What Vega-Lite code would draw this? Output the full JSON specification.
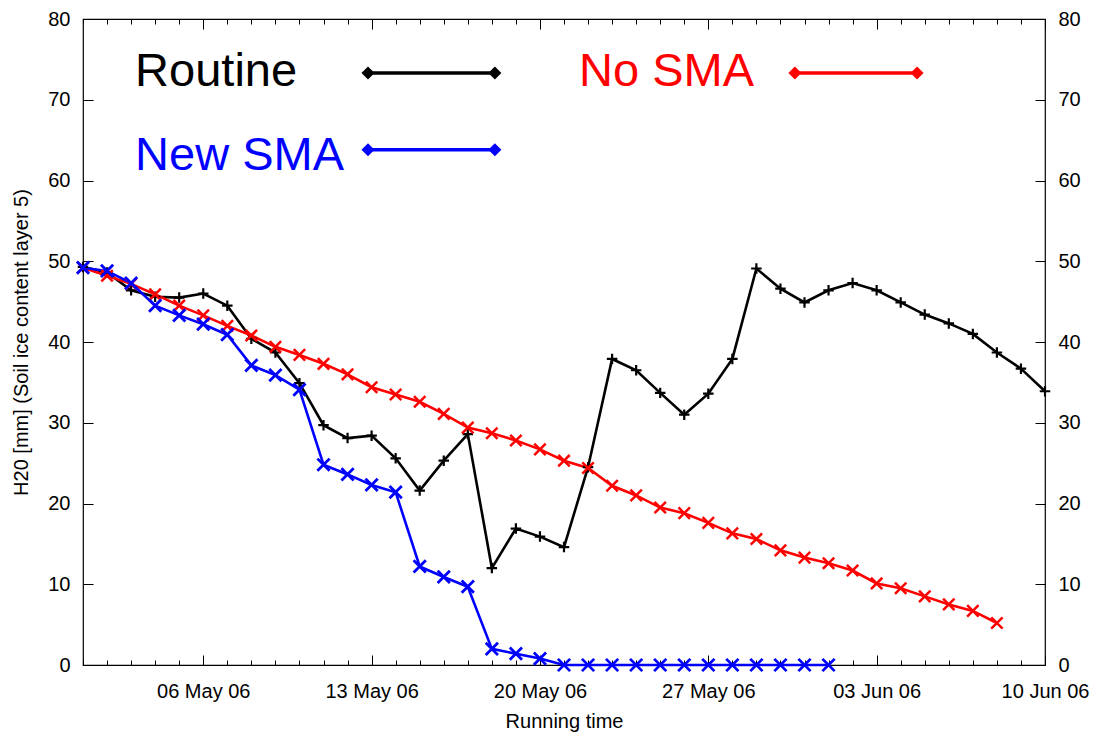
{
  "$schema": "https://vega.github.io/schema/vega-lite/v6.json",
  "autosize": "none",
  "width": 962,
  "height": 646,
  "padding": {"left": 83, "top": 19, "right": 52, "bottom": 68},
  "background": "white",
  "config": {
    "view": {"stroke": "black", "strokeWidth": 1.2},
    "font": "Liberation Sans",
    "axis": {
      "labelFont": "Liberation Sans",
      "labelFontSize": 20,
      "labelColor": "black",
      "titleFont": "Liberation Sans",
      "titleFontSize": 20,
      "titleFontWeight": "normal",
      "titleColor": "black",
      "tickColor": "black",
      "tickWidth": 1,
      "grid": false,
      "domain": false
    }
  },
  "datasets": {
    "series": [
      {"date": "2006-05-01T00:00", "series": "Routine", "value": 49.3},
      {"date": "2006-05-02T00:00", "series": "Routine", "value": 48.6},
      {"date": "2006-05-03T00:00", "series": "Routine", "value": 46.4},
      {"date": "2006-05-04T00:00", "series": "Routine", "value": 45.6},
      {"date": "2006-05-05T00:00", "series": "Routine", "value": 45.5},
      {"date": "2006-05-06T00:00", "series": "Routine", "value": 46.0},
      {"date": "2006-05-07T00:00", "series": "Routine", "value": 44.5},
      {"date": "2006-05-08T00:00", "series": "Routine", "value": 40.4},
      {"date": "2006-05-09T00:00", "series": "Routine", "value": 38.7},
      {"date": "2006-05-10T00:00", "series": "Routine", "value": 34.9},
      {"date": "2006-05-11T00:00", "series": "Routine", "value": 29.7},
      {"date": "2006-05-12T00:00", "series": "Routine", "value": 28.1},
      {"date": "2006-05-13T00:00", "series": "Routine", "value": 28.4},
      {"date": "2006-05-14T00:00", "series": "Routine", "value": 25.6},
      {"date": "2006-05-15T00:00", "series": "Routine", "value": 21.6},
      {"date": "2006-05-16T00:00", "series": "Routine", "value": 25.3},
      {"date": "2006-05-17T00:00", "series": "Routine", "value": 28.6},
      {"date": "2006-05-18T00:00", "series": "Routine", "value": 12.0},
      {"date": "2006-05-19T00:00", "series": "Routine", "value": 16.9},
      {"date": "2006-05-20T00:00", "series": "Routine", "value": 15.9},
      {"date": "2006-05-21T00:00", "series": "Routine", "value": 14.6},
      {"date": "2006-05-22T00:00", "series": "Routine", "value": 24.5},
      {"date": "2006-05-23T00:00", "series": "Routine", "value": 37.9},
      {"date": "2006-05-24T00:00", "series": "Routine", "value": 36.5},
      {"date": "2006-05-25T00:00", "series": "Routine", "value": 33.7},
      {"date": "2006-05-26T00:00", "series": "Routine", "value": 31.0},
      {"date": "2006-05-27T00:00", "series": "Routine", "value": 33.6},
      {"date": "2006-05-28T00:00", "series": "Routine", "value": 37.9},
      {"date": "2006-05-29T00:00", "series": "Routine", "value": 49.1},
      {"date": "2006-05-30T00:00", "series": "Routine", "value": 46.6},
      {"date": "2006-05-31T00:00", "series": "Routine", "value": 44.9},
      {"date": "2006-06-01T00:00", "series": "Routine", "value": 46.4},
      {"date": "2006-06-02T00:00", "series": "Routine", "value": 47.3},
      {"date": "2006-06-03T00:00", "series": "Routine", "value": 46.4},
      {"date": "2006-06-04T00:00", "series": "Routine", "value": 44.9},
      {"date": "2006-06-05T00:00", "series": "Routine", "value": 43.4},
      {"date": "2006-06-06T00:00", "series": "Routine", "value": 42.3},
      {"date": "2006-06-07T00:00", "series": "Routine", "value": 41.0},
      {"date": "2006-06-08T00:00", "series": "Routine", "value": 38.7},
      {"date": "2006-06-09T00:00", "series": "Routine", "value": 36.7},
      {"date": "2006-06-10T00:00", "series": "Routine", "value": 33.9},
      {"date": "2006-05-01T00:00", "series": "No SMA", "value": 49.2},
      {"date": "2006-05-02T00:00", "series": "No SMA", "value": 48.2},
      {"date": "2006-05-03T00:00", "series": "No SMA", "value": 47.2},
      {"date": "2006-05-04T00:00", "series": "No SMA", "value": 45.9},
      {"date": "2006-05-05T00:00", "series": "No SMA", "value": 44.5},
      {"date": "2006-05-06T00:00", "series": "No SMA", "value": 43.3},
      {"date": "2006-05-07T00:00", "series": "No SMA", "value": 42.0},
      {"date": "2006-05-08T00:00", "series": "No SMA", "value": 40.8},
      {"date": "2006-05-09T00:00", "series": "No SMA", "value": 39.4},
      {"date": "2006-05-10T00:00", "series": "No SMA", "value": 38.4},
      {"date": "2006-05-11T00:00", "series": "No SMA", "value": 37.3},
      {"date": "2006-05-12T00:00", "series": "No SMA", "value": 36.0},
      {"date": "2006-05-13T00:00", "series": "No SMA", "value": 34.4},
      {"date": "2006-05-14T00:00", "series": "No SMA", "value": 33.5},
      {"date": "2006-05-15T00:00", "series": "No SMA", "value": 32.6},
      {"date": "2006-05-16T00:00", "series": "No SMA", "value": 31.1},
      {"date": "2006-05-17T00:00", "series": "No SMA", "value": 29.4},
      {"date": "2006-05-18T00:00", "series": "No SMA", "value": 28.7},
      {"date": "2006-05-19T00:00", "series": "No SMA", "value": 27.8},
      {"date": "2006-05-20T00:00", "series": "No SMA", "value": 26.7},
      {"date": "2006-05-21T00:00", "series": "No SMA", "value": 25.3},
      {"date": "2006-05-22T00:00", "series": "No SMA", "value": 24.4},
      {"date": "2006-05-23T00:00", "series": "No SMA", "value": 22.2},
      {"date": "2006-05-24T00:00", "series": "No SMA", "value": 21.0},
      {"date": "2006-05-25T00:00", "series": "No SMA", "value": 19.5},
      {"date": "2006-05-26T00:00", "series": "No SMA", "value": 18.8},
      {"date": "2006-05-27T00:00", "series": "No SMA", "value": 17.6},
      {"date": "2006-05-28T00:00", "series": "No SMA", "value": 16.3},
      {"date": "2006-05-29T00:00", "series": "No SMA", "value": 15.6},
      {"date": "2006-05-30T00:00", "series": "No SMA", "value": 14.2},
      {"date": "2006-05-31T00:00", "series": "No SMA", "value": 13.3},
      {"date": "2006-06-01T00:00", "series": "No SMA", "value": 12.6},
      {"date": "2006-06-02T00:00", "series": "No SMA", "value": 11.7},
      {"date": "2006-06-03T00:00", "series": "No SMA", "value": 10.1},
      {"date": "2006-06-04T00:00", "series": "No SMA", "value": 9.5},
      {"date": "2006-06-05T00:00", "series": "No SMA", "value": 8.5},
      {"date": "2006-06-06T00:00", "series": "No SMA", "value": 7.5},
      {"date": "2006-06-07T00:00", "series": "No SMA", "value": 6.7},
      {"date": "2006-06-08T00:00", "series": "No SMA", "value": 5.2},
      {"date": "2006-05-01T00:00", "series": "New SMA", "value": 49.2},
      {"date": "2006-05-02T00:00", "series": "New SMA", "value": 48.8},
      {"date": "2006-05-03T00:00", "series": "New SMA", "value": 47.3},
      {"date": "2006-05-04T00:00", "series": "New SMA", "value": 44.5},
      {"date": "2006-05-05T00:00", "series": "New SMA", "value": 43.3},
      {"date": "2006-05-06T00:00", "series": "New SMA", "value": 42.2},
      {"date": "2006-05-07T00:00", "series": "New SMA", "value": 40.9},
      {"date": "2006-05-08T00:00", "series": "New SMA", "value": 37.1},
      {"date": "2006-05-09T00:00", "series": "New SMA", "value": 35.9},
      {"date": "2006-05-10T00:00", "series": "New SMA", "value": 34.1},
      {"date": "2006-05-11T00:00", "series": "New SMA", "value": 24.8},
      {"date": "2006-05-12T00:00", "series": "New SMA", "value": 23.6},
      {"date": "2006-05-13T00:00", "series": "New SMA", "value": 22.3},
      {"date": "2006-05-14T00:00", "series": "New SMA", "value": 21.4},
      {"date": "2006-05-15T00:00", "series": "New SMA", "value": 12.2},
      {"date": "2006-05-16T00:00", "series": "New SMA", "value": 10.9},
      {"date": "2006-05-17T00:00", "series": "New SMA", "value": 9.7},
      {"date": "2006-05-18T00:00", "series": "New SMA", "value": 2.0},
      {"date": "2006-05-19T00:00", "series": "New SMA", "value": 1.4},
      {"date": "2006-05-20T00:00", "series": "New SMA", "value": 0.8},
      {"date": "2006-05-21T00:00", "series": "New SMA", "value": 0},
      {"date": "2006-05-22T00:00", "series": "New SMA", "value": 0},
      {"date": "2006-05-23T00:00", "series": "New SMA", "value": 0},
      {"date": "2006-05-24T00:00", "series": "New SMA", "value": 0},
      {"date": "2006-05-25T00:00", "series": "New SMA", "value": 0},
      {"date": "2006-05-26T00:00", "series": "New SMA", "value": 0},
      {"date": "2006-05-27T00:00", "series": "New SMA", "value": 0},
      {"date": "2006-05-28T00:00", "series": "New SMA", "value": 0},
      {"date": "2006-05-29T00:00", "series": "New SMA", "value": 0},
      {"date": "2006-05-30T00:00", "series": "New SMA", "value": 0},
      {"date": "2006-05-31T00:00", "series": "New SMA", "value": 0},
      {"date": "2006-06-01T00:00", "series": "New SMA", "value": 0}
    ]
  },
  "layer": [
    {
      "data": {"name": "series"},
      "mark": {"type": "line", "strokeWidth": 2.6},
      "encoding": {
        "x": {
          "field": "date", "type": "temporal",
          "scale": {"domain": [{"year": 2006, "month": 5, "date": 1}, {"year": 2006, "month": 6, "date": 10}]},
          "axis": {
            "orient": "bottom",
            "values": [
              {"year": 2006, "month": 5, "date": 6},
              {"year": 2006, "month": 5, "date": 13},
              {"year": 2006, "month": 5, "date": 20},
              {"year": 2006, "month": 5, "date": 27},
              {"year": 2006, "month": 6, "date": 3},
              {"year": 2006, "month": 6, "date": 10}
            ],
            "format": "%d %b %y",
            "tickSize": -10,
            "labelPadding": 26,
            "labelFlush": false,
            "labelOverlap": false,
            "title": "Running time",
            "titlePadding": 10
          }
        },
        "y": {
          "field": "value", "type": "quantitative",
          "scale": {"domain": [0, 80], "nice": false},
          "axis": {
            "orient": "left",
            "values": [0, 10, 20, 30, 40, 50, 60, 70, 80],
            "tickSize": -10,
            "labelPadding": 23,
            "title": "H20 [mm] (Soil ice content layer 5)",
            "titlePadding": 16
          }
        },
        "color": {
          "field": "series", "type": "nominal",
          "scale": {"domain": ["Routine", "No SMA", "New SMA"], "range": ["#000000", "#ff0000", "#0000ff"]},
          "legend": null
        }
      }
    },
    {
      "data": {"name": "series"},
      "mark": {"type": "point", "filled": false, "opacity": 1},
      "encoding": {
        "x": {
          "field": "date", "type": "temporal",
          "axis": {
            "orient": "bottom",
            "tickCount": {"interval": "day", "step": 1},
            "tickSize": -5,
            "labels": false,
            "title": null
          }
        },
        "y": {
          "field": "value", "type": "quantitative",
          "axis": {
            "orient": "right",
            "values": [0, 10, 20, 30, 40, 50, 60, 70, 80],
            "tickSize": -10,
            "labelPadding": 23,
            "title": null
          }
        },
        "color": {"field": "series", "type": "nominal", "legend": null},
        "shape": {
          "field": "series", "type": "nominal",
          "scale": {"domain": ["Routine", "No SMA", "New SMA"], "range": ["M-1,0H1M0,-1V1", "M-1,-1L1,1M-1,1L1,-1", "M-1,-1L1,1M-1,1L1,-1"]},
          "legend": null
        },
        "size": {
          "field": "series", "type": "nominal",
          "scale": {"domain": ["Routine", "No SMA", "New SMA"], "range": [110, 150, 130]},
          "legend": null
        },
        "strokeWidth": {
          "field": "series", "type": "nominal",
          "scale": {"domain": ["Routine", "No SMA", "New SMA"], "range": [2.2, 2.8, 4]},
          "legend": null
        }
      }
    },
    {
      "data": {"values": [{}]},
      "mark": {"type": "text", "text": "Routine", "align": "left", "baseline": "alphabetic", "fontSize": 47, "font": "Liberation Sans", "color": "#000000"},
      "encoding": {
        "x": {
          "datum": {"year": 2006, "month": 5, "date": 3, "hours": 4}, "type": "temporal",
          "axis": {
            "orient": "top",
            "values": [
              {"year": 2006, "month": 5, "date": 6},
              {"year": 2006, "month": 5, "date": 13},
              {"year": 2006, "month": 5, "date": 20},
              {"year": 2006, "month": 5, "date": 27},
              {"year": 2006, "month": 6, "date": 3},
              {"year": 2006, "month": 6, "date": 10}
            ],
            "tickSize": -10,
            "labels": false,
            "title": null
          }
        },
        "y": {"datum": 71.7, "type": "quantitative", "axis": null}
      }
    },
    {
      "data": {"values": [{}]},
      "mark": {"type": "text", "text": "New SMA", "align": "left", "baseline": "alphabetic", "fontSize": 47, "font": "Liberation Sans", "color": "#0000ff"},
      "encoding": {
        "x": {
          "datum": {"year": 2006, "month": 5, "date": 3, "hours": 4}, "type": "temporal",
          "axis": {
            "orient": "top",
            "tickCount": {"interval": "day", "step": 1},
            "tickSize": -5,
            "labels": false,
            "title": null
          }
        },
        "y": {"datum": 61.3, "type": "quantitative", "axis": null}
      }
    },
    {
      "data": {"values": [{}]},
      "mark": {"type": "text", "text": "No SMA", "align": "left", "baseline": "alphabetic", "fontSize": 47, "font": "Liberation Sans", "color": "#ff0000"},
      "encoding": {
        "x": {"datum": {"year": 2006, "month": 5, "date": 21, "hours": 15}, "type": "temporal", "axis": null},
        "y": {"datum": 71.7, "type": "quantitative", "axis": null}
      }
    },
    {
      "data": {"values": [{}]},
      "mark": {"type": "rule", "strokeWidth": 3.5, "color": "#000000"},
      "encoding": {
        "x": {"datum": {"year": 2006, "month": 5, "date": 12, "hours": 20, "minutes": 24}, "type": "temporal", "axis": null},
        "x2": {"datum": {"year": 2006, "month": 5, "date": 18, "hours": 3}},
        "y": {"datum": 73.3, "type": "quantitative", "axis": null}
      }
    },
    {
      "data": {"values": [{}]},
      "mark": {"type": "point", "shape": "diamond", "filled": true, "size": 170, "opacity": 1, "color": "#000000"},
      "encoding": {
        "x": {"datum": {"year": 2006, "month": 5, "date": 12, "hours": 20, "minutes": 24}, "type": "temporal", "axis": null},
        "y": {"datum": 73.3, "type": "quantitative", "axis": null}
      }
    },
    {
      "data": {"values": [{}]},
      "mark": {"type": "point", "shape": "diamond", "filled": true, "size": 170, "opacity": 1, "color": "#000000"},
      "encoding": {
        "x": {"datum": {"year": 2006, "month": 5, "date": 18, "hours": 3}, "type": "temporal", "axis": null},
        "y": {"datum": 73.3, "type": "quantitative", "axis": null}
      }
    },
    {
      "data": {"values": [{}]},
      "mark": {"type": "rule", "strokeWidth": 3.5, "color": "#0000ff"},
      "encoding": {
        "x": {"datum": {"year": 2006, "month": 5, "date": 12, "hours": 20, "minutes": 24}, "type": "temporal", "axis": null},
        "x2": {"datum": {"year": 2006, "month": 5, "date": 18, "hours": 3}},
        "y": {"datum": 63.8, "type": "quantitative", "axis": null}
      }
    },
    {
      "data": {"values": [{}]},
      "mark": {"type": "point", "shape": "diamond", "filled": true, "size": 170, "opacity": 1, "color": "#0000ff"},
      "encoding": {
        "x": {"datum": {"year": 2006, "month": 5, "date": 12, "hours": 20, "minutes": 24}, "type": "temporal", "axis": null},
        "y": {"datum": 63.8, "type": "quantitative", "axis": null}
      }
    },
    {
      "data": {"values": [{}]},
      "mark": {"type": "point", "shape": "diamond", "filled": true, "size": 170, "opacity": 1, "color": "#0000ff"},
      "encoding": {
        "x": {"datum": {"year": 2006, "month": 5, "date": 18, "hours": 3}, "type": "temporal", "axis": null},
        "y": {"datum": 63.8, "type": "quantitative", "axis": null}
      }
    },
    {
      "data": {"values": [{}]},
      "mark": {"type": "rule", "strokeWidth": 3.5, "color": "#ff0000"},
      "encoding": {
        "x": {"datum": {"year": 2006, "month": 5, "date": 30, "hours": 14, "minutes": 24}, "type": "temporal", "axis": null},
        "x2": {"datum": {"year": 2006, "month": 6, "date": 4, "hours": 16, "minutes": 20}},
        "y": {"datum": 73.3, "type": "quantitative", "axis": null}
      }
    },
    {
      "data": {"values": [{}]},
      "mark": {"type": "point", "shape": "diamond", "filled": true, "size": 170, "opacity": 1, "color": "#ff0000"},
      "encoding": {
        "x": {"datum": {"year": 2006, "month": 5, "date": 30, "hours": 14, "minutes": 24}, "type": "temporal", "axis": null},
        "y": {"datum": 73.3, "type": "quantitative", "axis": null}
      }
    },
    {
      "data": {"values": [{}]},
      "mark": {"type": "point", "shape": "diamond", "filled": true, "size": 170, "opacity": 1, "color": "#ff0000"},
      "encoding": {
        "x": {"datum": {"year": 2006, "month": 6, "date": 4, "hours": 16, "minutes": 20}, "type": "temporal", "axis": null},
        "y": {"datum": 73.3, "type": "quantitative", "axis": null}
      }
    }
  ],
  "resolve": {"axis": {"x": "independent", "y": "independent"}}
}
